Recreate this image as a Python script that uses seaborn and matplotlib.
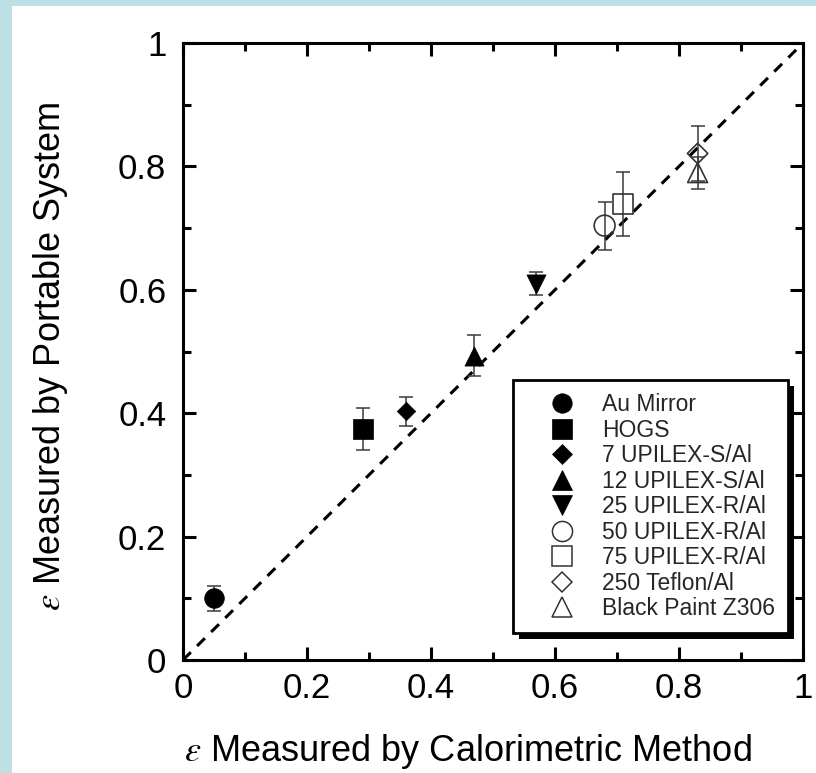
import numpy as np
import pandas as pd
import seaborn as sns
import matplotlib
matplotlib.use("Agg")
import matplotlib.pyplot as plt
from matplotlib.patches import Rectangle
from matplotlib.lines import Line2D
from matplotlib.ticker import MultipleLocator, FixedLocator, FixedFormatter

# ---- data ----
samples = ["Au Mirror", "HOGS", "7 UPILEX-S/Al", "12 UPILEX-S/Al", "25 UPILEX-R/Al",
           "50 UPILEX-R/Al", "75 UPILEX-R/Al", "250 Teflon/Al", "Black Paint Z306"]
calorimetric = [0.05, 0.29, 0.36, 0.47, 0.57, 0.68, 0.71, 0.83, 0.83]
portable = [0.100, 0.375, 0.403, 0.493, 0.610, 0.704, 0.739, 0.821, 0.790]
portable_err = [0.020, 0.034, 0.024, 0.033, 0.019, 0.039, 0.052, 0.045, 0.026]
tick_values = [0, 0.2, 0.4, 0.6, 0.8, 1]
tick_labels = ["0", "0.2", "0.4", "0.6", "0.8", "1"]
identity = [0, 1]

# ---- styles ----
markers = ["o", "s", "D", "^", "v", "o", "s", "D", "^"]
filled = [True, True, True, True, True, False, False, False, False]
sizes = [200, 225, 88, 190, 190, 225, 205, 108, 205]
leg_ms = [14.0, 14.0, 10.0, 14.0, 14.0, 14.5, 14.5, 10.2, 14.0]

df = pd.DataFrame({"sample": samples, "x": calorimetric, "y": portable, "err": portable_err})

sns.set_theme(style="ticks")
plt.rcParams["font.family"] = ["Liberation Sans", "DejaVu Sans"]
plt.rcParams["mathtext.fontset"] = "stix"

W, H = 816, 773
fig = plt.figure(figsize=(W / 100, H / 100), dpi=100, facecolor="#BCE0E4")
panel = Rectangle((12 / W, 0), 1 - 12 / W, 1 - 6 / H, transform=fig.transFigure,
                  facecolor="white", edgecolor="none", zorder=-10)
fig.patches.append(panel)
ax = fig.add_axes([183 / W, 1 - 660 / H, 620 / W, 617 / H])
ax.set_zorder(1)
ax.set_facecolor("none")

# identity line
sns.lineplot(x=identity, y=identity, ax=ax, color="black", lw=2.2,
             linestyle=(0, (3.6, 2.9)), zorder=2)

# error bars
ax.errorbar(df["x"], df["y"], yerr=df["err"], fmt="none", ecolor="#3a3a3a",
            elinewidth=1.1, capsize=5, capthick=1.1, zorder=3)

handles = []
for i, row in df.iterrows():
    sub = df.iloc[[i]]
    if filled[i]:
        sns.scatterplot(data=sub, x="x", y="y", marker=markers[i], s=sizes[i],
                        color="black", edgecolor="black", linewidth=0.5, ax=ax,
                        zorder=4, legend=False)
        handles.append(Line2D([], [], marker=markers[i], linestyle="none", markersize=leg_ms[i],
                              markerfacecolor="black", markeredgecolor="black", markeredgewidth=0.5))
    else:
        sns.scatterplot(data=sub, x="x", y="y", marker=markers[i], s=sizes[i],
                        facecolor="none", edgecolor="#333333", linewidth=1.2, ax=ax,
                        zorder=4, legend=False)
        handles.append(Line2D([], [], marker=markers[i], linestyle="none", markersize=leg_ms[i],
                              markerfacecolor="none", markeredgecolor="#333333", markeredgewidth=1.1))

ax.set_xlim(0, 1)
ax.set_ylim(0, 1)
for axis in (ax.xaxis, ax.yaxis):
    axis.set_major_locator(FixedLocator(tick_values))
    axis.set_major_formatter(FixedFormatter(tick_labels))
    axis.set_minor_locator(MultipleLocator(0.1))
ax.tick_params(which="both", direction="in", top=True, right=True, width=2.2, color="black",
               labelsize=25, labelcolor="black")
ax.tick_params(which="major", length=9.5)
ax.tick_params(which="minor", length=5.5)
ax.tick_params(axis="x", pad=9)
ax.tick_params(axis="y", pad=12)
for s in ax.spines.values():
    s.set_linewidth(2.2)
    s.set_color("black")
    s.set_visible(True)

ax.set_xlabel(r"$\varepsilon$ Measured by Calorimetric Method", fontsize=26, color="black")
ax.set_ylabel(r"$\varepsilon$ Measured by Portable System", fontsize=26, color="black")
ax.xaxis.set_label_coords((468 - 183) / 620, (660 - 732) / 617)
ax.yaxis.set_label_coords((70 - 183) / 620, (660 - 356) / 617)

leg = ax.legend(handles, samples, loc="upper left", bbox_to_anchor=((513 - 183) / 620, (660 - 380) / 617),
                fontsize=16.5, frameon=True, fancybox=False, edgecolor="black", facecolor="white",
                framealpha=1, borderpad=0.57, labelspacing=0.11, handlelength=3.15, handletextpad=0.15,
                borderaxespad=0, numpoints=1)
leg.get_frame().set_linewidth(2.0)
leg.set_zorder(6)

fig.canvas.draw()
bb = leg.get_frame().get_window_extent(fig.canvas.get_renderer())
inv = ax.transAxes.inverted()
(x0, y0) = inv.transform((bb.x0 + 6, bb.y0 - 6))
(x1, y1) = inv.transform((bb.x1 + 6, bb.y1 - 6))
ax.add_patch(Rectangle((x0, y0), x1 - x0, y1 - y0, transform=ax.transAxes, facecolor="black",
                       edgecolor="none", zorder=5.5, clip_on=False))

fig.savefig("out.png", dpi=100, facecolor=fig.get_facecolor())
